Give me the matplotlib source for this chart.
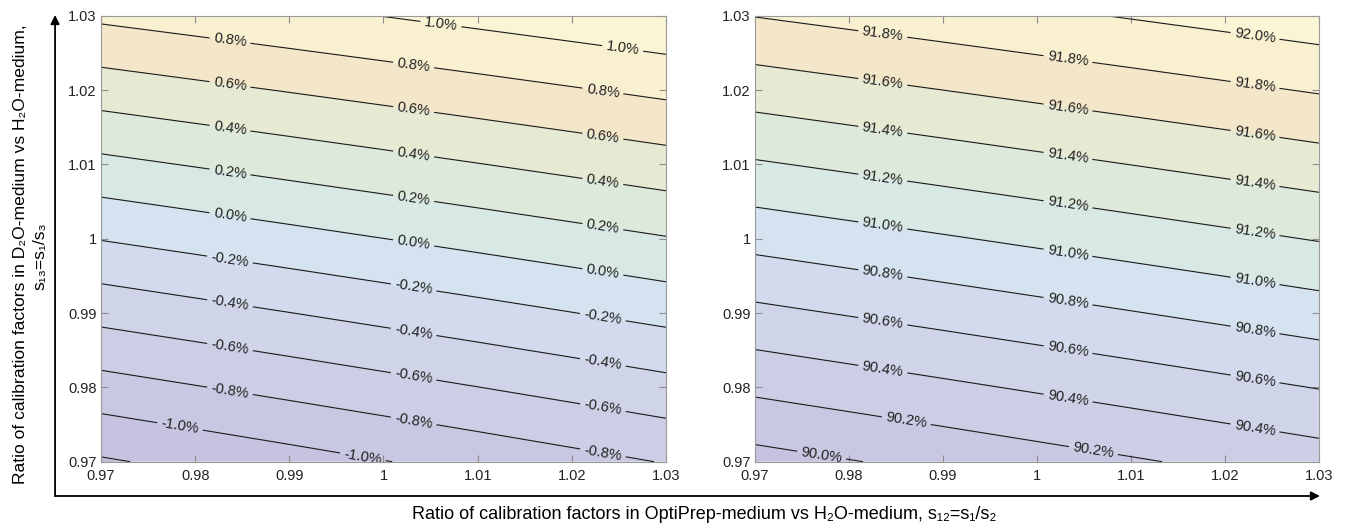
"""
Contour maps of the relative deviation and of the recovered fraction as a
function of the two calibration-factor ratios s12 and s13.
"""

import numpy as np
import matplotlib.pyplot as plt

plt.rcParams['font.family'] = ['Liberation Sans', 'DejaVu Sans']

# grid of calibration-factor ratios (columns: s12, rows: s13)
s12 = [0.97, 0.98, 0.99, 1.00, 1.01, 1.02, 1.03]
s13 = [0.97, 0.98, 0.99, 1.00, 1.01, 1.02, 1.03]
tick_labels = ['0.97', '0.98', '0.99', '1', '1.01', '1.02', '1.03']

# relative deviation in %, one row per s13 value
deviation = [
    [-1.2224, -1.1505, -1.0786, -1.0067, -0.9348, -0.8629, -0.7910],
    [-0.8791, -0.8100, -0.7408, -0.6717, -0.6026, -0.5334, -0.4643],
    [-0.5358, -0.4694, -0.4031, -0.3367, -0.2703, -0.2040, -0.1376],
    [-0.1925, -0.1289, -0.0653, -0.0017, 0.0619, 0.1255, 0.1891],
    [0.1508, 0.2116, 0.2725, 0.3333, 0.3941, 0.4550, 0.5158],
    [0.4941, 0.5522, 0.6102, 0.6683, 0.7264, 0.7844, 0.8425],
    [0.8374, 0.8927, 0.9480, 1.0033, 1.0586, 1.1139, 1.1692],
]

# recovered fraction in %, one row per s13 value
fraction = [
    [89.9276, 89.9905, 90.0533, 90.1162, 90.1791, 90.2419, 90.3048],
    [90.2405, 90.3016, 90.3626, 90.4237, 90.4848, 90.5458, 90.6069],
    [90.5534, 90.6127, 90.6719, 90.7312, 90.7905, 90.8497, 90.9090],
    [90.8663, 90.9238, 90.9812, 91.0387, 91.0962, 91.1536, 91.2111],
    [91.1792, 91.2349, 91.2905, 91.3462, 91.4019, 91.4575, 91.5132],
    [91.4921, 91.5460, 91.5998, 91.6537, 91.7076, 91.7614, 91.8153],
    [91.8050, 91.8571, 91.9091, 91.9612, 92.0133, 92.0653, 92.1174],
]

# contour levels
dev_edges = [-1.4, -1.2, -1.0, -0.8, -0.6, -0.4, -0.2, 0.0, 0.2, 0.4, 0.6, 0.8, 1.0, 1.2]
dev_lines = [-1.2, -1.0, -0.8, -0.6, -0.4, -0.2, 0.0, 0.2, 0.4, 0.6, 0.8, 1.0]
frac_edges = [89.8, 90.0, 90.2, 90.4, 90.6, 90.8, 91.0, 91.2, 91.4, 91.6, 91.8, 92.0, 92.2]
frac_lines = [90.0, 90.2, 90.4, 90.6, 90.8, 91.0, 91.2, 91.4, 91.6, 91.8, 92.0]

# pastel band colours, low to high
band_colors = ['#c3bedd', '#c6c3e0', '#c9c8e3', '#cccee6', '#cfd4e9', '#d2dbed',
               '#d4e3ef', '#d7e8e5', '#dde9db', '#e6ead3', '#f4e6c9', '#f8f0cf',
               '#faf5d5']

# where the labels sit: (s12 position, level)
dev_label_spots = (
    [(0.9837, v) for v in [0.8, 0.6, 0.4, 0.2, 0.0, -0.2, -0.4, -0.6, -0.8]]
    + [(0.9784, -1.0)]
    + [(1.0032, v) for v in [0.8, 0.6, 0.4, 0.2, 0.0, -0.2, -0.4, -0.6, -0.8]]
    + [(1.0061, 1.0), (0.9978, -1.0)]
    + [(1.0233, v) for v in [0.8, 0.6, 0.4, 0.2, 0.0, -0.2, -0.4, -0.6, -0.8]]
    + [(1.0254, 1.0)]
)
frac_label_spots = (
    [(0.9836, v) for v in [91.8, 91.6, 91.4, 91.2, 91.0, 90.8, 90.6, 90.4]]
    + [(0.9861, 90.2), (0.9771, 90.0)]
    + [(1.0033, v) for v in [91.8, 91.6, 91.4, 91.2, 91.0, 90.8, 90.6, 90.4]]
    + [(1.0060, 90.2)]
    + [(1.0232, v) for v in [92.0, 91.8, 91.6, 91.4, 91.2, 91.0, 90.8, 90.6, 90.4]]
)


def spots_on_lines(spots, xs, ys, Z):
    """Turn (x, level) pairs into points lying on the contour line."""
    Z = np.asarray(Z)
    pts = []
    for x, lev in spots:
        col = np.array([np.interp(x, xs, row) for row in Z])
        pts.append((x, float(np.interp(lev, col, ys))))
    return pts


def draw_panel(ax, Z, edges, lines, colors, spots):
    ax.contourf(s12, s13, Z, levels=edges, colors=colors, antialiased=True)
    cs = ax.contour(s12, s13, Z, levels=lines, colors='#1a1a1a',
                    linewidths=0.8, linestyles='solid')
    ax.clabel(cs, lines, inline=True, inline_spacing=4, fontsize=10.5,
              fmt=lambda v: f'{v:.1f}%', colors='#222222',
              manual=spots_on_lines(spots, s12, s13, Z))

    ax.set_xlim(0.97, 1.03)
    ax.set_ylim(0.97, 1.03)
    ax.set_xticks(s12)
    ax.set_xticklabels(tick_labels)
    ax.set_yticks(s13)
    ax.set_yticklabels(tick_labels)
    ax.tick_params(direction='in', length=5, width=0.8, color='#8c8c8c',
                   top=True, right=True, labelsize=10.5, labelcolor='#222222')
    ax.tick_params(axis='x', pad=5)
    ax.tick_params(axis='y', pad=3)
    for sp in ax.spines.values():
        sp.set_color('#9a9a9a')
        sp.set_linewidth(0.8)


fig = plt.figure(figsize=(13.46, 5.29), dpi=100)
ax1 = fig.add_axes([0.0750, 0.1272, 0.4198, 0.8429])
ax2 = fig.add_axes([0.5609, 0.1272, 0.4190, 0.8429])

draw_panel(ax1, deviation, dev_edges, dev_lines, band_colors, dev_label_spots)
draw_panel(ax2, fraction, frac_edges, frac_lines, band_colors[1:], frac_label_spots)

# common axis arrows
arrow = dict(arrowstyle='-|>', color='black', lw=1.3, mutation_scale=13,
             shrinkA=0, shrinkB=0)
fig.add_artist(plt.Annotation('', xy=(0.0409, 0.9716), xytext=(0.0409, 0.0624),
                              xycoords='figure fraction', textcoords='figure fraction',
                              arrowprops=arrow))
fig.add_artist(plt.Annotation('', xy=(0.9807, 0.0624), xytext=(0.0409, 0.0624),
                              xycoords='figure fraction', textcoords='figure fraction',
                              arrowprops=arrow))

fig.text(0.5234, 0.0265, 'Ratio of calibration factors in OptiPrep-medium vs H\u2082O-medium, '
         's\u2081\u2082=s\u2081/s\u2082', ha='center', va='center', fontsize=13)
fig.text(0.0149, 0.520, 'Ratio of calibration factors in D\u2082O-medium vs H\u2082O-medium,',
         rotation=90, ha='center', va='center', fontsize=12.6)
fig.text(0.0300, 0.516, 's\u2081\u2083=s\u2081/s\u2083',
         rotation=90, ha='center', va='center', fontsize=12.6)

plt.savefig('out.png', dpi=100)
plt.close()
